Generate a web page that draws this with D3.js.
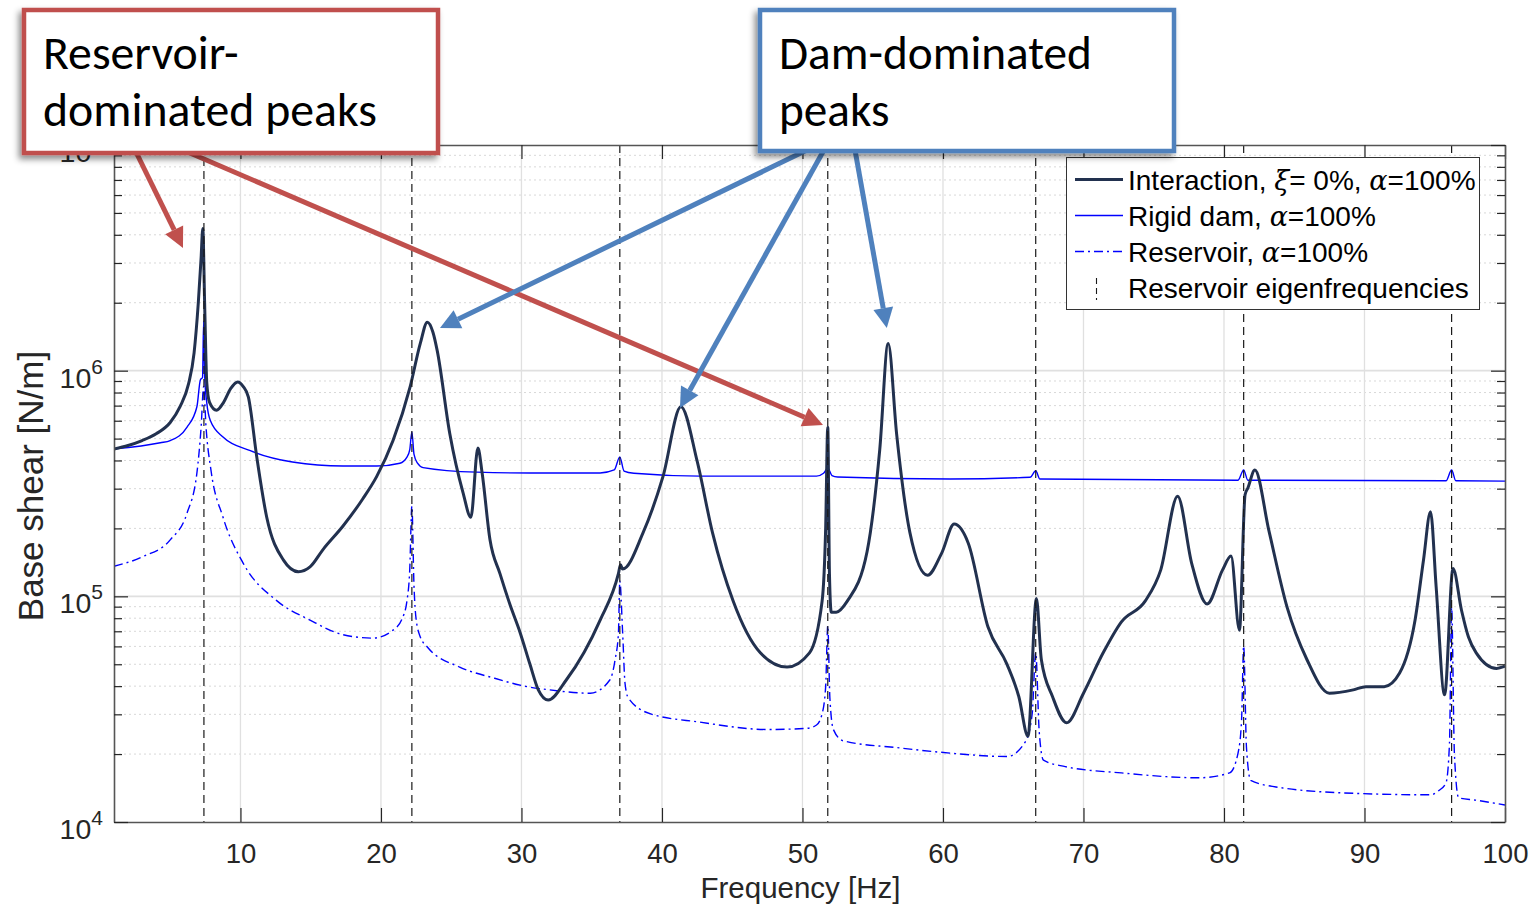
<!DOCTYPE html>
<html>
<head>
<meta charset="utf-8">
<script src="https://cdn.jsdelivr.net/npm/d3@7"></script>
<style>
  body { margin: 0; background: #fff; }
</style>
</head>
<body>
<div id="chart"></div>
<script>
// ---- data ----
// [frequency Hz, base shear N/m]
const interaction = [
  [1.0,4.50e5],[2.0,4.66e5],[3.0,4.90e5],[4.0,5.25e5],[5.0,5.89e5],[5.7,6.92e5],[6.3,8.71e5],
  [6.7,1.20e6],[7.0,2.0e6],[7.2,3.16e6],[7.32,4.27e6],[7.45,2.0e6],[7.6,8.9e5],[7.8,7.24e5],
  [8.3,6.68e5],[8.8,7.24e5],[9.3,8.32e5],[9.8,8.91e5],[10.2,8.5e5],[10.56,7.66e5],[11.16,4.15e5],
  [11.87,2.24e5],[13.05,1.45e5],[14.12,1.285e5],[14.95,1.35e5],[15.9,1.62e5],[17.3,2.05e5],
  [18.7,2.70e5],[19.7,3.40e5],[20.86,4.90e5],[22.07,8.45e5],[22.8,1.32e6],[23.3,1.64e6],
  [23.7,1.48e6],[24.0,1.23e6],[24.9,5.25e5],[25.84,2.88e5],[26.4,2.24e5],[26.9,4.54e5],
  [27.2,3.52e5],[27.76,1.78e5],[28.47,1.26e5],[29.2,9.12e4],[29.9,6.92e4],[30.6,5.01e4],
  [31.2,3.85e4],[31.9,3.47e4],[33.2,4.27e4],[35.6,7.85e4],[36.9,1.26e5],[37.05,1.38e5],
  [37.2,1.32e5],[38.65,1.91e5],[40.07,3.39e5],[41.35,6.92e5],[42.5,3.98e5],[43.6,1.91e5],
  [45.06,9.55e4],[47.0,5.62e4],[48.9,4.86e4],[50.5,5.62e4],[51.4,9.55e4],[51.65,2.0e5],
  [51.8,5.62e5],[51.92,1.26e5],[52.05,8.51e4],[52.4,8.51e4],[53.2,9.55e4],[54.6,1.58e5],
  [55.5,4.47e5],[56.1,1.32e6],[56.7,5.25e5],[57.65,1.91e5],[58.9,1.24e5],[59.9,1.55e5],
  [60.8,2.09e5],[61.8,1.72e5],[63.2,7.33e4],[64.55,5.01e4],[65.4,3.59e4],[66.05,2.40e4],
  [66.65,9.77e4],[67.0,5.25e4],[67.8,3.59e4],[68.8,2.75e4],[70.0,3.72e4],[71.4,5.62e4],
  [72.7,7.71e4],[74.4,9.55e4],[75.5,1.31e5],[76.7,2.78e5],[77.7,1.40e5],[78.8,9.25e4],
  [79.9,1.31e5],[80.5,1.51e5],[81.1,7.08e4],[81.5,2.82e5],[81.7,3.02e5],[82.2,3.63e5],
  [83.2,1.95e5],[84.5,8.91e4],[85.9,5.25e4],[87.5,3.72e4],[89.2,3.85e4],[90.1,3.98e4],
  [91.4,3.98e4],[92.5,4.57e4],[93.6,7.85e4],[94.2,1.45e5],[94.7,2.37e5],[95.1,1.10e5],
  [95.7,3.66e4],[96.3,1.33e5],[96.9,8.7e4],[97.4,6.6e4],[97.95,5.62e4],[99.4,4.79e4],[100,4.9e4]
];

const rigidDam = [
  [1.0,4.50e5],[4.3,4.79e5],[5.0,4.90e5],[6.2,5.62e5],[6.9,6.92e5],[7.15,9.12e5],[7.3,9.33e5],
  [7.38,1.66e6],[7.45,9.55e5],[7.6,7.24e5],[7.85,6.03e5],[8.76,5.08e5],[10.7,4.42e5],
  [13.7,3.94e5],[17.3,3.78e5],[19.7,3.78e5],[21.35,3.89e5],[21.85,4.14e5],[22.05,4.47e5],
  [22.2,5.35e5],[22.35,4.27e5],[22.6,3.89e5],[23.0,3.72e5],[26.8,3.55e5],[30.6,3.52e5],
  [35.6,3.52e5],[36.6,3.63e5],[37.0,4.15e5],[37.3,3.59e5],[38.0,3.51e5],[42.7,3.41e5],
  [51.0,3.41e5],[51.5,3.51e5],[51.8,3.70e5],[52.1,3.43e5],[52.5,3.38e5],[60.5,3.31e5],
  [66.2,3.37e5],[66.6,3.60e5],[66.9,3.31e5],[81.0,3.27e5],[81.4,3.63e5],[81.7,3.27e5],
  [95.8,3.25e5],[96.2,3.63e5],[96.5,3.25e5],[100,3.24e5]
];

const reservoir = [
  [1.0,1.36e5],[3.06,1.50e5],[5.0,1.78e5],[6.2,2.34e5],[6.9,3.52e5],[7.2,5.62e5],[7.38,8.51e5],
  [7.55,5.62e5],[7.9,3.63e5],[8.76,2.24e5],[10.2,1.40e5],[12.6,9.55e4],[14.95,7.85e4],
  [17.3,6.76e4],[19.4,6.53e4],[20.86,7.08e4],[21.5,7.94e4],[21.85,9.55e4],[22.05,1.32e5],
  [22.2,2.51e5],[22.35,1.12e5],[22.5,7.94e4],[22.8,6.61e4],[23.3,5.96e4],[25.6,4.86e4],
  [28.0,4.35e4],[30.4,3.98e4],[32.0,3.85e4],[34.9,3.72e4],[36.3,4.27e4],[36.66,5.22e4],
  [36.9,6.86e4],[37.0,1.17e5],[37.2,6.92e4],[37.37,4.12e4],[37.6,3.55e4],[39.15,3.02e4],
  [42.7,2.77e4],[47.5,2.57e4],[50.3,2.60e4],[51.0,2.69e4],[51.4,3.02e4],[51.65,3.98e4],
  [51.8,7.41e4],[51.95,3.55e4],[52.2,2.57e4],[52.9,2.29e4],[56.9,2.13e4],[60.5,2.02e4],
  [64.55,1.95e4],[65.9,2.29e4],[66.35,3.02e4],[66.6,5.62e4],[66.85,2.51e4],[67.15,1.88e4],
  [68.7,1.76e4],[72.7,1.65e4],[78.2,1.57e4],[80.4,1.65e4],[81.0,2.02e4],[81.25,2.82e4],
  [81.4,6.03e4],[81.6,2.14e4],[81.9,1.53e4],[83.7,1.43e4],[89.2,1.34e4],[94.7,1.32e4],
  [95.3,1.38e4],[95.8,1.49e4],[96.05,2.24e4],[96.2,8.91e4],[96.4,2.0e4],[96.7,1.28e4],
  [97.9,1.25e4],[100,1.19e4]
];

const eigenFreqs = [7.4, 22.2, 37.0, 51.8, 66.6, 81.4, 96.2];
const xTicks = [10, 20, 30, 40, 50, 60, 70, 80, 90, 100];
const yDecades = [1e4, 1e5, 1e6, 1e7];
const yExponents = ["4", "5", "6", "7"];

const legendLabels = [
  [["Interaction, ", false], ["ξ", true], ["= 0%, ", false], ["α", true], ["=100%", false]],
  [["Rigid dam, ", false], ["α", true], ["=100%", false]],
  [["Reservoir, ", false], ["α", true], ["=100%", false]],
  [["Reservoir eigenfrequencies", false]]
];

// annotation boxes and the peaks they point at ([Hz, N/m])
const redBoxLines = ["Reservoir-", "dominated peaks"];
const blueBoxLines = ["Dam-dominated", "peaks"];
const redTargets = [[5.91, 3.5e6], [51.46, 5.74e5]];
const blueTargets = [[24.2, 1.545e6], [41.28, 6.84e5], [56.0, 1.545e6]];

// ---- chart ----
const W = 1536, H = 905;
const plot = { left: 114, right: 1505, top: 145, bottom: 822 };

const colors = {
  interaction: "#22314f",
  blue: "#0000ff",
  axis: "#262626",
  grid: "#e0e0e0",
  minor: "#d8d8d8",
  red: "#c0504d",
  steel: "#4f81bd"
};

const svg = d3.select("#chart").append("svg")
  .attr("width", W).attr("height", H)
  .style("font-family", "'Liberation Sans', Arial, Helvetica, sans-serif");

const x = d3.scaleLinear().domain([1, 100]).range([plot.left, plot.right]);
const y = d3.scaleLog().domain([1e4, 1e7]).range([plot.bottom, plot.top]);

const minorVals = [];
yDecades.slice(0, -1).forEach(d => { for (let k = 2; k <= 9; k++) minorVals.push(k * d); });

const defs = svg.append("defs");
defs.append("clipPath").attr("id", "clip").append("rect")
  .attr("x", plot.left).attr("y", plot.top)
  .attr("width", plot.right - plot.left).attr("height", plot.bottom - plot.top);
const shadow = defs.append("filter").attr("id", "shadow")
  .attr("x", "-10%").attr("y", "-10%").attr("width", "120%").attr("height", "130%");
shadow.append("feDropShadow")
  .attr("dx", -3).attr("dy", 4).attr("stdDeviation", 3)
  .attr("flood-color", "#000").attr("flood-opacity", 0.45);

// grid
const grid = svg.append("g");
grid.selectAll("line.minor").data(minorVals).join("line")
  .attr("x1", plot.left).attr("x2", plot.right)
  .attr("y1", d => y(d)).attr("y2", d => y(d))
  .attr("stroke", colors.minor).attr("stroke-width", 1).attr("stroke-dasharray", "2,3");
grid.selectAll("line.vx").data(xTicks.slice(0, -1)).join("line")
  .attr("x1", d => x(d)).attr("x2", d => x(d))
  .attr("y1", plot.top).attr("y2", plot.bottom)
  .attr("stroke", colors.grid).attr("stroke-width", 1.3);
grid.selectAll("line.hy").data(yDecades.slice(1, -1)).join("line")
  .attr("x1", plot.left).attr("x2", plot.right)
  .attr("y1", d => y(d)).attr("y2", d => y(d))
  .attr("stroke", colors.grid).attr("stroke-width", 1.8);

// series
const line = d3.line().x(d => x(d[0])).y(d => y(d[1])).curve(d3.curveMonotoneX);
const series = svg.append("g").attr("clip-path", "url(#clip)");

series.append("path").datum(rigidDam)
  .attr("d", line).attr("fill", "none")
  .attr("stroke", colors.blue).attr("stroke-width", 1.4);
series.append("path").datum(reservoir)
  .attr("d", line).attr("fill", "none")
  .attr("stroke", colors.blue).attr("stroke-width", 1.4)
  .attr("stroke-dasharray", "9,4,2,4");
series.append("path").datum(interaction)
  .attr("d", line).attr("fill", "none")
  .attr("stroke", colors.interaction).attr("stroke-width", 3)
  .attr("stroke-linejoin", "round");

// reservoir eigenfrequencies
series.selectAll("line.eig").data(eigenFreqs).join("line")
  .attr("x1", d => x(d)).attr("x2", d => x(d))
  .attr("y1", plot.top).attr("y2", plot.bottom)
  .attr("stroke", "#1a1a1a").attr("stroke-width", 1.2)
  .attr("stroke-dasharray", "8,5");

// axes (box with inward ticks)
function styleAxis(g) {
  g.selectAll("path.domain").attr("stroke", "#555").attr("stroke-width", 1.6);
  g.selectAll(".tick line").attr("stroke", colors.axis).attr("stroke-width", 1.2);
  g.selectAll(".tick text").attr("fill", colors.axis)
    .attr("font-size", 27.5).attr("font-family", "'Liberation Sans', Arial, sans-serif");
}

svg.append("g").attr("transform", `translate(0,${plot.bottom})`)
  .call(d3.axisBottom(x).tickValues(xTicks).tickSizeInner(-14).tickSizeOuter(0).tickPadding(21))
  .call(styleAxis);
svg.append("g").attr("transform", `translate(0,${plot.top})`)
  .call(d3.axisTop(x).tickValues(xTicks).tickSizeInner(-14).tickSizeOuter(0).tickFormat(""))
  .call(styleAxis);
svg.append("g").attr("transform", `translate(${plot.left},0)`)
  .call(d3.axisLeft(y).tickValues(yDecades).tickSizeInner(-14).tickSizeOuter(0).tickFormat(""))
  .call(styleAxis);
svg.append("g").attr("transform", `translate(${plot.left},0)`)
  .call(d3.axisLeft(y).tickValues(minorVals).tickSizeInner(-8).tickSizeOuter(0).tickFormat(""))
  .call(styleAxis).call(g => g.select(".domain").remove());
svg.append("g").attr("transform", `translate(${plot.right},0)`)
  .call(d3.axisRight(y).tickValues(yDecades).tickSizeInner(-14).tickSizeOuter(0).tickFormat(""))
  .call(styleAxis);
svg.append("g").attr("transform", `translate(${plot.right},0)`)
  .call(d3.axisRight(y).tickValues(minorVals).tickSizeInner(-8).tickSizeOuter(0).tickFormat(""))
  .call(styleAxis).call(g => g.select(".domain").remove());

// y tick labels 10^n
const yLab = svg.append("g").selectAll("text").data(yDecades).join("text")
  .attr("x", 103).attr("y", d => y(d) + 17)
  .attr("text-anchor", "end").attr("fill", colors.axis).attr("font-size", 28.5);
yLab.append("tspan").text("10");
yLab.append("tspan").attr("font-size", 21).attr("dy", -14).text((d, i) => yExponents[i]);

// axis titles
svg.append("text")
  .attr("x", (plot.left + plot.right) / 2 - 9).attr("y", 898)
  .attr("text-anchor", "middle").attr("fill", colors.axis).attr("font-size", 29.5)
  .text("Frequency [Hz]");
svg.append("text")
  .attr("transform", "translate(43,486) rotate(-90)")
  .attr("text-anchor", "middle").attr("fill", colors.axis).attr("font-size", 35)
  .text("Base shear [N/m]");

// legend
const leg = svg.append("g");
leg.append("rect")
  .attr("x", 1066.5).attr("y", 157.5).attr("width", 413).attr("height", 152)
  .attr("fill", "#fff").attr("stroke", "#333").attr("stroke-width", 1);
const rowBase = i => 190 + i * 36;
const sample = [
  { stroke: colors.interaction, w: 3, dash: null },
  { stroke: colors.blue, w: 1.4, dash: null },
  { stroke: colors.blue, w: 1.4, dash: "9,4,2,4" }
];
sample.forEach((s, i) => {
  leg.append("line")
    .attr("x1", 1075).attr("x2", 1123)
    .attr("y1", rowBase(i) - 10.5).attr("y2", rowBase(i) - 10.5)
    .attr("stroke", s.stroke).attr("stroke-width", s.w)
    .attr("stroke-dasharray", s.dash);
});
leg.append("line")
  .attr("x1", 1096.5).attr("x2", 1096.5)
  .attr("y1", rowBase(3) - 20).attr("y2", rowBase(3) + 2)
  .attr("stroke", "#1a1a1a").attr("stroke-width", 1.1).attr("stroke-dasharray", "6,4");
legendLabels.forEach((parts, i) => {
  const t = leg.append("text").attr("x", 1128).attr("y", rowBase(i))
    .attr("font-size", 28).attr("fill", "#000");
  parts.forEach(([txt, greek]) => {
    const sp = t.append("tspan").text(txt);
    if (greek) sp.attr("font-family", "'DejaVu Serif', 'Liberation Serif', serif")
      .attr("font-style", "italic").attr("font-size", 27);
  });
});

// annotation arrows
function arrow(g, from, tipData, color) {
  const tx = x(tipData[0]), ty = y(tipData[1]);
  const ang = Math.atan2(ty - from[1], tx - from[0]);
  const headLen = 20, headHalf = 10;
  const bx = tx - headLen * Math.cos(ang), by = ty - headLen * Math.sin(ang);
  g.append("line")
    .attr("x1", from[0]).attr("y1", from[1]).attr("x2", bx).attr("y2", by)
    .attr("stroke", color).attr("stroke-width", 5);
  const px = -Math.sin(ang) * headHalf, py = Math.cos(ang) * headHalf;
  g.append("path")
    .attr("d", `M${tx},${ty}L${bx + px},${by + py}L${bx - px},${by - py}Z`)
    .attr("fill", color);
}
const ann = svg.append("g");
arrow(ann, [135, 150], redTargets[0], colors.red);
arrow(ann, [183, 150], redTargets[1], colors.red);
arrow(ann, [807, 150], blueTargets[0], colors.steel);
arrow(ann, [824, 150], blueTargets[1], colors.steel);
arrow(ann, [855, 150], blueTargets[2], colors.steel);

// annotation boxes
function noteBox(x0, y0, x1, y1, color, lines, fitWidth) {
  const g = svg.append("g");
  g.append("rect")
    .attr("x", x0 + 2).attr("y", y0 + 2)
    .attr("width", x1 - x0 - 4).attr("height", y1 - y0 - 4)
    .attr("fill", "#fff").attr("stroke", color).attr("stroke-width", 4.5)
    .attr("filter", "url(#shadow)");
  const texts = lines.map((s, i) => g.append("text")
    .attr("x", x0 + 21).attr("y", y0 + 61 + i * 57)
    .attr("font-family", "Calibri, Carlito, Lato, 'Open Sans', sans-serif")
    .attr("font-size", 44).attr("fill", "#000").text(s));
  const widest = d3.max(texts, t => t.node().getComputedTextLength());
  const fs = 44 * fitWidth / widest;
  texts.forEach(t => t.attr("font-size", fs));
}
noteBox(22, 8, 440, 155, colors.red, redBoxLines, 334);
noteBox(758, 8, 1176, 153, colors.steel, blueBoxLines, 313);
</script>
</body>
</html>
